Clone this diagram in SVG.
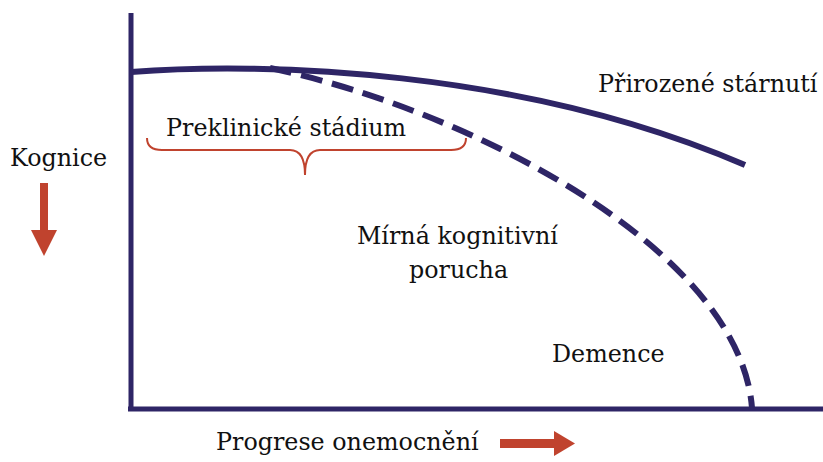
<svg xmlns="http://www.w3.org/2000/svg" width="823" height="462" viewBox="0 0 823 462">
<style>
.lbl{font-family:"DejaVu Serif","Liberation Serif",serif;font-size:23.8px;fill:#111}
.ax{stroke:#2e2566;stroke-width:5;fill:none}
.crv{stroke:#2e2566;stroke-width:6;fill:none;stroke-linecap:butt}
.red{fill:#c0432e}
</style>
<rect width="823" height="462" fill="#fff"/>
<g id="axes">
<line class="ax" x1="131" y1="13" x2="131" y2="411"/>
<line class="ax" x1="128" y1="409" x2="823" y2="409"/>
</g>
<g id="connectors">
<path id="aging" class="crv" d="M131,72 C260,62 520,68 745,165"/>
<path id="dementia" class="crv" stroke-dasharray="22,10" d="M270,68 C470,110 740,250 752,408"/>
</g>
<g id="brace">
<path d="M147,138 Q147,150 162,150 L290,150 Q305,150 305,175 Q305,150 320,150 L451,150 Q466,150 466,138" fill="none" stroke="#c0432e" stroke-width="2"/>
</g>
<g id="preclinical"><text class="lbl" x="166" y="136">Preklinické stádium</text></g>
<g id="kognice">
<text class="lbl" x="10" y="166">Kognice</text>
<rect class="red" x="40" y="183" width="8" height="48"/>
<polygon class="red" points="31,230 57,230 44,256"/>
</g>
<g id="progrese">
<text class="lbl" x="216" y="450">Progrese onemocnění</text>
<rect class="red" x="500" y="439" width="56" height="9"/>
<polygon class="red" points="554,431 554,456 575,443.5"/>
</g>
<g id="aging-label"><text class="lbl" x="598" y="92">Přirozené stárnutí</text></g>
<g id="mci-label">
<text class="lbl" x="357" y="244">Mírná kognitivní</text>
<text class="lbl" x="409" y="278">porucha</text>
</g>
<g id="dementia-label"><text class="lbl" x="552" y="362">Demence</text></g>
</svg>
